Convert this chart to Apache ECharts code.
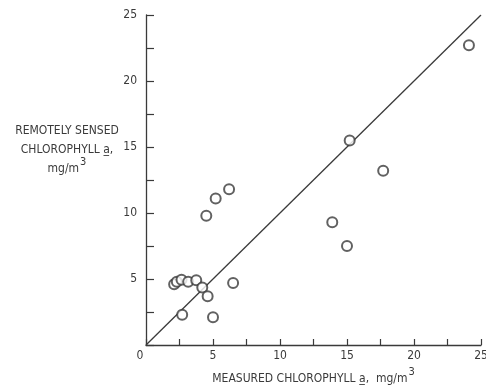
<!DOCTYPE html>
<html>
<head>
<meta charset="utf-8">
<script src="https://cdn.jsdelivr.net/npm/echarts@6/dist/echarts.min.js"></script>
<style>
  html, body { margin: 0; padding: 0; background: #fff; }
  #chart { width: 486px; height: 387px; }
</style>
</head>
<body>
<div id="chart"></div>
<script>
// measured vs remotely sensed chlorophyll a (mg/m3)
const measured = [24.1, 15.2, 17.7, 6.2, 5.2, 4.5, 13.9, 15.0, 6.5, 2.1, 2.3, 2.65, 3.15, 3.75, 4.2, 4.6, 2.7, 5.0]
const sensed = [22.7, 15.5, 13.2, 11.8, 11.1, 9.8, 9.3, 7.5, 4.7, 4.6, 4.8, 4.95, 4.8, 4.9, 4.35, 3.7, 2.3, 2.1]
// 1:1 line
const lineX = [0, 25]
const lineY = [0, 25]

const ink = '#3a3a3a'
const font = '"DejaVu Sans Condensed", "Open Sans", sans-serif'

const chart = echarts.init(document.getElementById('chart'))

const option = {
  animation: false,
  backgroundColor: '#fff',
  title: {
    text: 'REMOTELY SENSED\nCHLOROPHYLL a̲,\n{n|mg/m}{s|3}',
    left: 62,
    top: 116,
    textAlign: 'center',
    textStyle: {
      fontFamily: font,
      fontSize: 12,
      fontWeight: 'normal',
      color: ink,
      lineHeight: 19,
      rich: {
        n: { fontFamily: font, fontSize: 12, color: ink },
        s: { fontFamily: font, fontSize: 11, color: ink, padding: [0, 0, 12, 1] }
      }
    }
  },
  grid: {
    left: 146,
    right: 5,
    top: 15,
    bottom: 42,
    outerBoundsMode: 'none'
  },
  xAxis: {
    type: 'value',
    min: 0,
    max: 25,
    interval: 2.5,
    name: 'MEASURED CHLOROPHYLL a̲,  mg/m{s|3}',
    nameLocation: 'middle',
    nameGap: 22,
    nameTextStyle: {
      fontFamily: font,
      fontSize: 12,
      color: ink,
      rich: {
        s: { fontFamily: font, fontSize: 11, color: ink, padding: [0, 0, 12, 1] }
      }
    },
    axisLine: { lineStyle: { color: ink, width: 1.3 } },
    axisTick: { inside: true, length: 6, lineStyle: { color: ink, width: 1.2 } },
    splitLine: { show: false },
    axisLabel: {
      fontFamily: font,
      fontSize: 12,
      color: ink,
      margin: 5,
      formatter: v => {
        if (v === 0) return '{z|0}'
        return v % 5 === 0 ? String(v) : ''
      },
      rich: {
        z: { fontFamily: font, fontSize: 12, color: ink, padding: [0, 12, 0, 0] }
      }
    }
  },
  yAxis: {
    type: 'value',
    min: 0,
    max: 25,
    interval: 2.5,
    axisLine: { lineStyle: { color: ink, width: 1.3 } },
    axisTick: { inside: true, length: 8, lineStyle: { color: ink, width: 1.2 } },
    splitLine: { show: false },
    axisLabel: {
      fontFamily: font,
      fontSize: 12,
      color: ink,
      margin: 9,
      formatter: v => (v !== 0 && v % 5 === 0 ? String(v) : '')
    }
  },
  series: [
    {
      type: 'line',
      data: lineX.map((x, i) => [x, lineY[i]]),
      showSymbol: false,
      lineStyle: { color: ink, width: 1.3 },
      z: 1
    },
    {
      type: 'scatter',
      data: measured.map((x, i) => [x, sensed[i]]),
      symbol: 'emptyCircle',
      symbolSize: 10,
      itemStyle: { color: ink, borderWidth: 1.2 },
      z: 2
    }
  ]
}

chart.setOption(option)
</script>
</body>
</html>
